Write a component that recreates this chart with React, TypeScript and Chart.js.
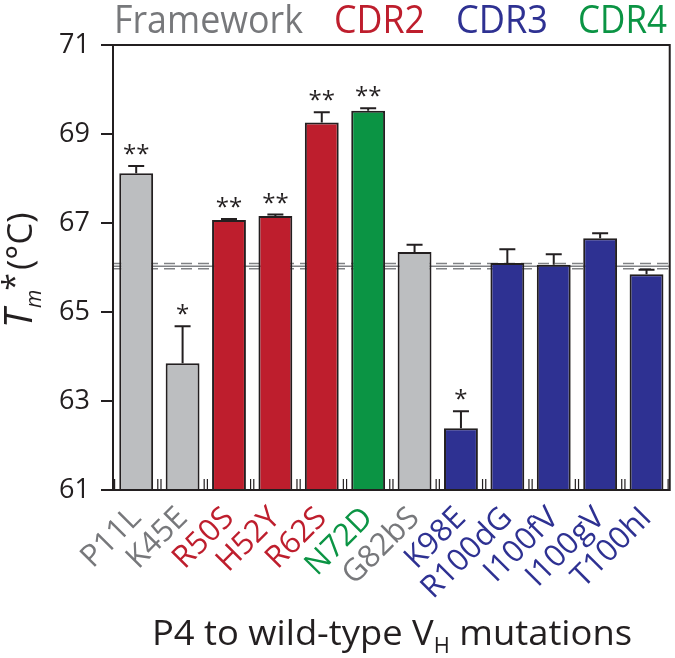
import React, { useEffect, useRef } from 'react';
import { Chart, registerables } from 'chart.js';

Chart.register(...registerables);

// ---------- data ----------
const categories = ['P11L', 'K45E', 'R50S', 'H52Y', 'R62S', 'N72D', 'G82bS', 'K98E', 'R100dG', 'I100fV', 'I100gV', 'T100hI'];
const regionOf = ['fw', 'fw', 'cdr2', 'cdr2', 'cdr2', 'cdr4', 'fw', 'cdr3', 'cdr3', 'cdr3', 'cdr3', 'cdr3'];
const tmValues = [68.12, 63.85, 67.07, 67.16, 69.26, 69.52, 66.35, 62.39, 66.1, 66.06, 66.66, 65.85];
const tmErrors = [0.16, 0.83, 0.02, 0.03, 0.23, 0.06, 0.16, 0.38, 0.31, 0.24, 0.11, 0.1];
const significance = ['**', '*', '**', '**', '**', '**', '', '*', '', '', '', ''];
const wildTypeMean = 66.03;
const wildTypeSd = 0.06;
const yMin = 61;
const yMax = 71;
const yStep = 2;
const headerLabels = ['Framework', 'CDR2', 'CDR3', 'CDR4'];
const headerRegions = ['fw', 'cdr2', 'cdr3', 'cdr4'];

// ---------- styles ----------
const FONT = '"Open Sans", "Noto Sans", sans-serif';
const INK = '#231F20';
const barColor: Record<string, string> = { fw: '#BCBEC0', cdr2: '#BE1E2D', cdr3: '#2E3192', cdr4: '#0B9444' };
const textColor: Record<string, string> = { fw: '#77787B', cdr2: '#BE1E2D', cdr3: '#2E3192', cdr4: '#0B9444' };
const headerBoxes = [
  { x: 114, w: 189 },
  { x: 334, w: 91 },
  { x: 456, w: 92 },
  { x: 578, w: 89 },
];

const decorPlugin = {
  id: 'decor',
  beforeDatasetsDraw(chart: any) {
    const { ctx, chartArea } = chart;
    const y = chart.scales.y;
    ctx.save();
    ctx.strokeStyle = '#808285';
    ctx.lineWidth = 1.5;
    ctx.beginPath();
    ctx.moveTo(chartArea.left, y.getPixelForValue(wildTypeMean));
    ctx.lineTo(chartArea.right, y.getPixelForValue(wildTypeMean));
    ctx.stroke();
    ctx.setLineDash([11, 6]);
    [wildTypeMean + wildTypeSd, wildTypeMean - wildTypeSd].forEach((v) => {
      const py = y.getPixelForValue(v);
      ctx.beginPath();
      ctx.moveTo(chartArea.left, py);
      ctx.lineTo(chartArea.right, py);
      ctx.stroke();
    });
    ctx.restore();
  },
  afterDatasetsDraw(chart: any) {
    const { ctx, chartArea } = chart;
    const x = chart.scales.x;
    const y = chart.scales.y;
    const meta = chart.getDatasetMeta(0);
    ctx.save();
    meta.data.forEach((bar: any, i: number) => {
      const top = y.getPixelForValue(tmValues[i]);
      const errTop = y.getPixelForValue(tmValues[i] + tmErrors[i]);
      ctx.strokeStyle = INK;
      ctx.lineWidth = 2;
      ctx.beginPath();
      ctx.moveTo(bar.x, top);
      ctx.lineTo(bar.x, errTop);
      ctx.moveTo(bar.x - 8, errTop);
      ctx.lineTo(bar.x + 8, errTop);
      ctx.stroke();
      if (significance[i]) {
        ctx.fillStyle = INK;
        ctx.font = `24px ${FONT}`;
        ctx.textAlign = 'center';
        ctx.textBaseline = 'alphabetic';
        ctx.fillText(significance[i], bar.x, errTop - 4);
      }
    });
    ctx.strokeStyle = INK;
    ctx.lineWidth = 1.2;
    for (let i = 0; i <= categories.length; i++) {
      const bx = x.getPixelForValue(i - 0.5);
      [bx - 1.6, bx + 1.6].forEach((tx) => {
        if (tx < chartArea.left || tx > chartArea.right) return;
        ctx.beginPath();
        ctx.moveTo(tx, chartArea.bottom);
        ctx.lineTo(tx, chartArea.bottom - 11);
        ctx.stroke();
      });
    }
    ctx.lineWidth = 2;
    ctx.strokeRect(chartArea.left, chartArea.top, chartArea.right - chartArea.left, chartArea.bottom - chartArea.top);
    ctx.restore();
  },
  afterDraw(chart: any) {
    const { ctx } = chart;
    ctx.save();
    // header
    ctx.textAlign = 'left';
    ctx.textBaseline = 'alphabetic';
    ctx.font = `38px ${FONT}`;
    headerLabels.forEach((t, i) => {
      ctx.fillStyle = textColor[headerRegions[i]];
      ctx.fillText(t, headerBoxes[i].x, 33, headerBoxes[i].w);
    });

    // x title
    const big = `35px ${FONT}`;
    const small = `21px ${FONT}`;
    const parts = [
      { t: 'P4 to wild-type V', f: big, dy: 0 },
      { t: 'H', f: small, dy: 8 },
      { t: ' mutations', f: big, dy: 0 },
    ];
    let total = 0;
    parts.forEach((p) => { ctx.font = p.f; total += ctx.measureText(p.t).width; });
    const sx = 480 / total;
    ctx.save();
    ctx.translate(152, 645);
    ctx.scale(sx, 1);
    ctx.fillStyle = INK;
    let cx = 0;
    parts.forEach((p) => {
      ctx.font = p.f;
      ctx.fillText(p.t, cx, p.dy);
      cx += ctx.measureText(p.t).width;
    });
    ctx.restore();

    // y title: T_m * (°C)
    ctx.save();
    ctx.translate(32, 328);
    ctx.rotate(-Math.PI / 2);
    ctx.fillStyle = INK;
    ctx.font = `italic 38px ${FONT}`;
    ctx.fillText('T', 0, 0);
    let px = ctx.measureText('T').width + 1;
    ctx.font = `italic 21px ${FONT}`;
    ctx.fillText('m', px, 9);
    px += ctx.measureText('m').width - 1;
    ctx.font = `32px ${FONT}`;
    ctx.fillText('*', px, -6);
    px += ctx.measureText('*').width + 3;
    ctx.font = `35px ${FONT}`;
    ctx.fillText('(°C)', px, 0);
    ctx.restore();

    ctx.restore();
  },
};

export default function App() {
  const canvasRef = useRef<HTMLCanvasElement | null>(null);

  useEffect(() => {
    const canvas = canvasRef.current;
    if (!canvas) return;
    const chart = new Chart(canvas, {
      type: 'bar',
      data: {
        labels: categories,
        datasets: [
          {
            data: tmValues,
            backgroundColor: regionOf.map((r) => barColor[r]),
            borderColor: INK,
            borderWidth: 2,
            barPercentage: 0.73,
            categoryPercentage: 1,
          },
        ],
      },
      options: {
        responsive: false,
        animation: false,
        devicePixelRatio: 1,
        layout: { padding: { top: 45, right: 4, left: 0, bottom: 0 } },
        plugins: {
          legend: { display: false },
          tooltip: { enabled: false },
          title: { display: false },
        },
        scales: {
          x: {
            offset: true,
            grid: { display: false },
            border: { display: true, color: INK, width: 2 },
            ticks: {
              autoSkip: false,
              maxRotation: 45,
              minRotation: 45,
              padding: 2,
              font: { family: FONT, size: 31 },
              color: (c: any) => textColor[regionOf[c.index]] || INK,
            },
            afterFit: (s: any) => { s.height = 168; },
          },
          y: {
            min: yMin,
            max: yMax,
            grid: { drawOnChartArea: false, drawTicks: true, tickLength: 12, color: INK, lineWidth: 2 },
            border: { display: true, color: INK, width: 2 },
            ticks: {
              stepSize: yStep,
              padding: 11,
              color: INK,
              font: { family: FONT, size: 27 },
            },
            afterFit: (s: any) => { s.width = 113; },
          },
        },
      },
      plugins: [decorPlugin],
    });
    return () => chart.destroy();
  }, []);

  return (
    <div style={{ position: 'absolute', left: 0, top: 0, width: 675, height: 658, background: '#fff' }}>
      <canvas ref={canvasRef} width={675} height={658} style={{ display: 'block' }} />
    </div>
  );
}
